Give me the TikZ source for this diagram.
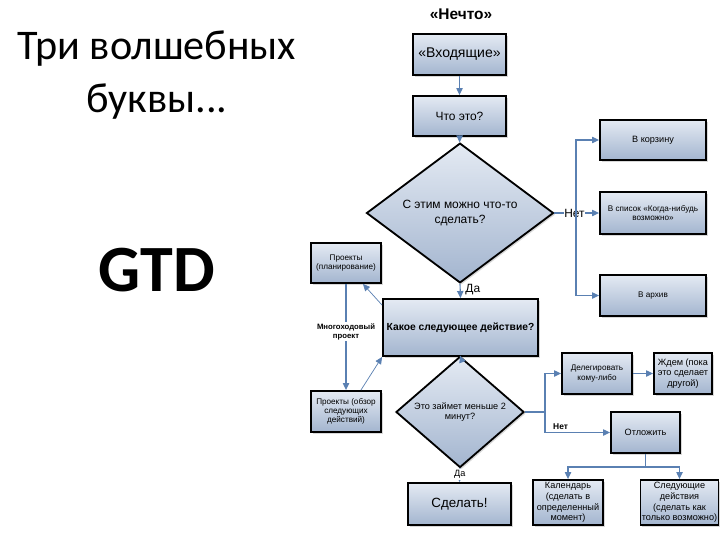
\documentclass[tikz,border=0pt]{standalone}
\usepackage{fontspec}
\setmainfont{Liberation Sans}
\newfontfamily\slidefont{Carlito}
\usepackage{tikz}
\usetikzlibrary{arrows.meta,positioning,shapes.geometric,shadows}

\definecolor{flowblue}{HTML}{5A80B2}
\definecolor{boxtop}{HTML}{E4EAF3}
\definecolor{boxbot}{HTML}{A3B5CF}

\begin{document}
\begin{tikzpicture}[
  x=0.025cm,
  y=-0.025cm,
  box/.style={draw=black, line width=1.3pt, top color=boxtop, bottom color=boxbot,
    align=center, inner sep=1pt,
    drop shadow={shadow xshift=1.2pt, shadow yshift=-1.2pt, fill=black!30, opacity=0.5}},
  decision/.style={box, diamond, inner sep=0pt},
  flow/.style={draw=flowblue, line width=0.8pt, -{Triangle[length=5pt,width=4.5pt]}},
  plainline/.style={draw=flowblue, line width=0.8pt},
  tinytxt/.style={font=\fontsize{5.8}{6.6}\selectfont},
  smalltxt/.style={font=\fontsize{6.5}{7.6}\selectfont},
  midtxt/.style={font=\fontsize{8.5}{10}\selectfont},
  bigtxt/.style={font=\fontsize{10}{12}\selectfont}
]
\path[fill=white] (0,0) rectangle (720,540);

% slide title
\node[font=\slidefont\fontsize{30}{38}\selectfont, align=center] (slidetitle) at (157,75) {Три волшебных\\буквы...};
\node[font=\slidefont\bfseries\fontsize{47}{52}\selectfont] (gtd) at (157,270) {GTD};

% top of the chart
\node[font=\bfseries\fontsize{11}{13}\selectfont] (nechto) at (461,14) {«Нечто»};
\node[box, bigtxt, minimum width=2.325cm, minimum height=1.025cm] (inbox) at (459.5,54.5) {«Входящие»};
\node[box, midtxt, minimum width=2.325cm, minimum height=1.0cm] (what) at (459.5,116) {Что это?};
\node[decision, midtxt, minimum width=4.675cm, minimum height=2.85cm] (candoit) at (460,213) {С этим можно что-то\\сделать?};

% "no" branch
\node[box, smalltxt, minimum width=2.65cm, minimum height=1.0cm] (trash) at (653,140) {В корзину};
\node[box, tinytxt, minimum width=2.65cm, minimum height=1.05cm] (someday) at (653,213) {В список «Когда-нибудь\\возможно»};
\node[box, tinytxt, minimum width=2.65cm, minimum height=1.025cm] (archive) at (653,295.5) {В архив};

% next action and projects
\node[box, font=\bfseries\fontsize{7.3}{9}\selectfont, minimum width=3.875cm, minimum height=1.425cm] (nextact) at (460.5,327.5) {Какое следующее действие?};
\node[box, tinytxt, minimum width=1.75cm, minimum height=1.0cm] (projplan) at (346,263) {Проекты\\(планирование)};
\node[box, tinytxt, minimum width=1.75cm, minimum height=1.025cm] (projrev) at (346,411.5) {Проекты (обзор\\следующих\\действий)};

% two minutes
\node[decision, smalltxt, minimum width=3.2cm, minimum height=1.925cm] (twomin) at (460,412) {Это займет меньше 2\\минут?};
\node[box, font=\fontsize{9.5}{11}\selectfont, minimum width=2.575cm, minimum height=1.05cm] (doit) at (459.5,504) {Сделать!};
\node[box, tinytxt, minimum width=1.75cm, minimum height=1.025cm] (delegate) at (597,373.5) {Делегировать\\кому-либо};
\node[box, smalltxt, minimum width=1.45cm, minimum height=1.025cm] (waiting) at (683,373.5) {Ждем (пока\\это сделает\\другой)};
\node[box, smalltxt, minimum width=1.725cm, minimum height=1.025cm] (defer) at (645.5,432.5) {Отложить};
\node[box, smalltxt, minimum width=1.75cm, minimum height=1.125cm] (calendar) at (568,502.5) {Календарь\\(сделать в\\определенный\\момент)};
\node[box, smalltxt, minimum width=1.775cm, minimum height=1.125cm] (nextlist) at (679.5,502.5) {Следующие\\действия\\(сделать как\\только возможно)};

% connectors
\draw[flow] (inbox) -- (what);
\draw[flow] (what) -- (candoit);

\coordinate (nosplit) at (576,213);
\draw[flow] (candoit.east) -- node[fill=white, midtxt, inner sep=0.5pt, pos=0.45] (nolabel) {Нет} (someday.west);
\draw[flow] (nosplit) |- (trash.west);
\draw[flow] (nosplit) |- (archive.west);

\draw[flow] (candoit.south) -- node[right, midtxt, pos=0.4] (yeslabel) {Да} (nextact.north);

\draw[flow, line width=0.5pt] ([yshift=-0.175cm]nextact.north west) -- ([xshift=-0.475cm]projplan.south east);
\draw[flow] (projplan.south) -- node[fill=white, font=\bfseries\fontsize{5.5}{6.5}\selectfont, align=center, inner sep=1pt, pos=0.45] (multistep) {Многоходовый\\проект} (projrev.north);
\draw[flow, line width=0.5pt] ([xshift=-0.525cm]projrev.north east) -- (nextact.south west);

\draw[flow] (nextact.south) -- (twomin.north);
\draw[flow] (twomin.south) -- node[fill=white, smalltxt, inner sep=1pt, pos=0.45] (yeslabel2) {Да} (doit.north);

\coordinate (twosplit) at (545,412);
\draw[plainline] (twomin.east) -- (twosplit);
\draw[flow] (twosplit) |- (delegate.west);
\draw[flow] (twosplit) |- node[above, font=\bfseries\fontsize{6}{7}\selectfont, pos=0.62, inner sep=1.5pt] (nolabel2) {Нет} (defer.west);
\draw[flow] (delegate) -- (waiting);

\coordinate (defsplit) at (645.5,467);
\draw[plainline] (defer.south) -- (defsplit);
\draw[flow] (defsplit) -| (calendar.north);
\draw[flow] (defsplit) -| (nextlist.north);
\end{tikzpicture}
\end{document}
